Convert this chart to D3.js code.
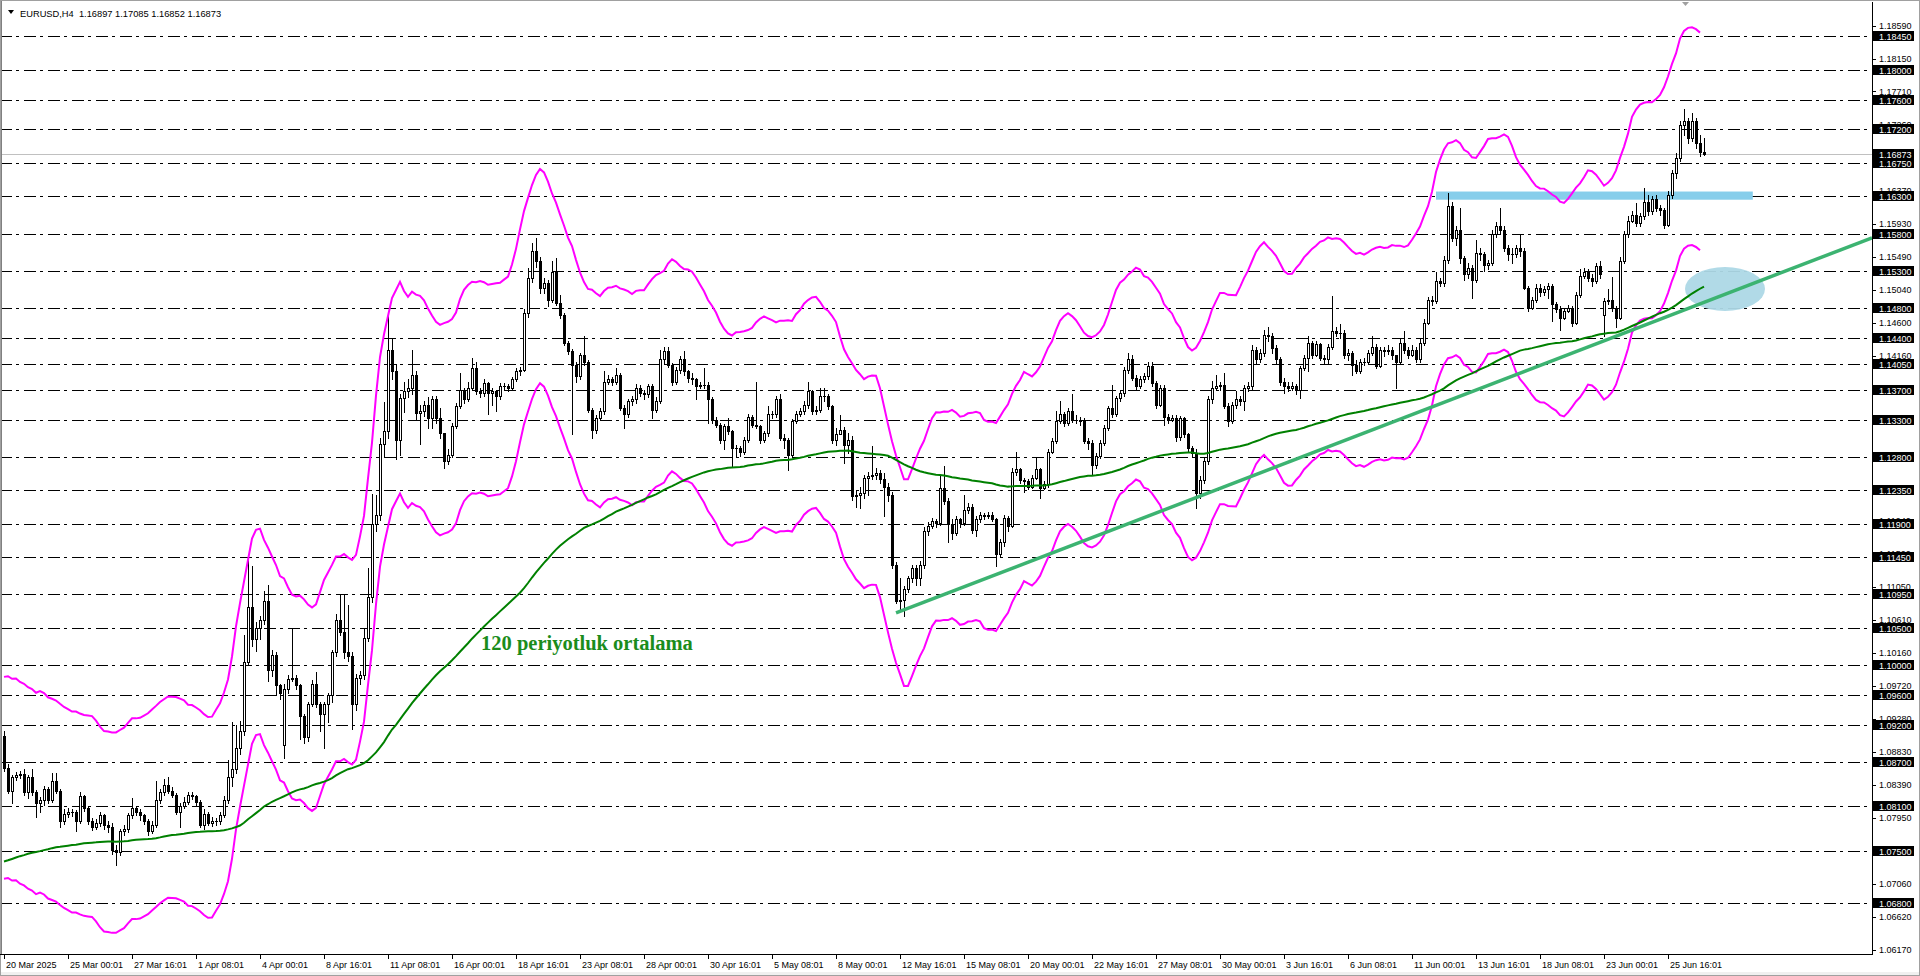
<!DOCTYPE html>
<html><head><meta charset="utf-8">
<script src="https://cdn.jsdelivr.net/npm/d3@7"></script>
<style>
html,body{margin:0;padding:0;background:#fff;overflow:hidden;}
svg{display:block;}
text{font-family:"Liberation Sans",Arial,sans-serif;}
</style></head><body>
<svg id="chart" width="1920" height="976"></svg>
<script>
// ---------------- DATA ----------------
const headerText = "EURUSD,H4  1.16897 1.17085 1.16852 1.16873";
const closes = [
1.0862,1.0831,1.0849,1.0852,1.0853,1.0829,1.0849,1.0829,1.0814,1.0818,
1.0834,1.0819,1.0844,1.0831,1.0790,1.0800,1.0802,1.0803,1.0790,1.0824,
1.0808,1.0790,1.0782,1.0788,1.0798,1.0785,1.0782,1.0752,1.0749,1.0777,
1.0780,1.0798,1.0808,1.0803,1.0798,1.0790,1.0777,1.0785,1.0819,1.0829,
1.0839,1.0831,1.0826,1.0803,1.0811,1.0816,1.0826,1.0824,1.0816,1.0785,
1.0800,1.0788,1.0790,1.0790,1.0798,1.0819,1.0849,1.0860,1.0888,1.0911,
1.1004,1.1078,1.1035,1.1050,1.1060,1.1086,1.0994,1.1014,1.0973,1.0963,
1.0968,1.0981,1.0983,1.0973,1.0932,1.0903,1.0947,1.0975,1.0947,1.0934,
1.0947,1.0960,1.1017,1.1060,1.1045,1.1017,1.1012,1.0947,1.0983,1.0986,
1.1037,1.1091,1.1189,1.1202,1.1297,1.1315,1.1423,1.1395,1.1302,1.1359,
1.1369,1.1372,1.1390,1.1339,1.1341,1.1349,1.1332,1.1357,1.1332,1.1312,
1.1274,1.1283,1.1321,1.1348,1.1370,1.1357,1.1373,1.1399,1.1368,1.1366,
1.1379,1.1366,1.1368,1.1361,1.1375,1.1375,1.1373,1.1384,1.1395,1.1397,
1.1473,1.1520,1.1556,1.1543,1.1507,1.1514,1.1491,1.1529,1.1487,1.1471,
1.1433,1.1422,1.1404,1.1388,1.1417,1.1408,1.1343,1.1316,1.1332,1.1341,
1.1381,1.1384,1.1381,1.1390,1.1346,1.1337,1.1355,1.1357,1.1373,1.1366,
1.1364,1.1375,1.1343,1.1355,1.1411,1.1422,1.1404,1.1381,1.1397,1.1411,
1.1395,1.1386,1.1384,1.1375,1.1377,1.1377,1.1357,1.1330,1.1323,1.1303,
1.1321,1.1314,1.1292,1.1292,1.1287,1.1303,1.1334,1.1323,1.1321,1.1303,
1.1312,1.1337,1.1337,1.1357,1.1305,1.1303,1.1283,1.1328,1.1337,1.1341,
1.1350,1.1368,1.1341,1.1343,1.1361,1.1361,1.1348,1.1303,1.1310,1.1316,
1.1296,1.1303,1.1227,1.1229,1.1231,1.1252,1.1254,1.1256,1.1258,1.1250,
1.1240,1.1229,1.1135,1.1086,1.1088,1.1102,1.1117,1.1131,1.1117,1.1135,
1.1180,1.1187,1.1193,1.1191,1.1238,1.1220,1.1189,1.1178,1.1196,1.1191,
1.1209,1.1213,1.1182,1.1196,1.1202,1.1200,1.1202,1.1196,1.1149,1.1166,
1.1198,1.1187,1.1260,1.1263,1.1249,1.1247,1.1240,1.1252,1.1263,1.1238,
1.1243,1.1287,1.1301,1.1328,1.1337,1.1325,1.1341,1.1330,1.1330,1.1328,
1.1301,1.1299,1.1269,1.1281,1.1299,1.1319,1.1346,1.1337,1.1359,1.1366,
1.1397,1.1411,1.1386,1.1375,1.1384,1.1388,1.1402,1.1379,1.1350,1.1373,
1.1334,1.1330,1.1332,1.1306,1.1332,1.1310,1.1292,1.1285,1.1231,1.1249,
1.1274,1.1357,1.1373,1.1375,1.1377,1.1348,1.1328,1.1350,1.1357,1.1355,
1.1373,1.1375,1.1424,1.1411,1.1420,1.1444,1.1442,1.1426,1.1411,1.1381,
1.1375,1.1373,1.1375,1.1370,1.1399,1.1413,1.1433,1.1417,1.1431,1.1413,
1.1411,1.1428,1.1449,1.1446,1.1446,1.1417,1.1419,1.1404,1.1395,1.1408,
1.1408,1.1419,1.1428,1.1402,1.1424,1.1422,1.1424,1.1417,1.1408,1.1433,
1.1424,1.1417,1.1424,1.1411,1.1433,1.1460,1.1491,1.1489,1.1516,1.1514,
1.1545,1.1617,1.1574,1.1585,1.1547,1.1525,1.1534,1.1518,1.1554,1.1552,
1.1538,1.1541,1.1579,1.1590,1.1585,1.1561,1.1552,1.1552,1.1561,1.1556,
1.1507,1.1480,1.1491,1.1507,1.1502,1.1505,1.1509,1.1485,1.1478,1.1467,
1.1476,1.1480,1.1460,1.1498,1.1523,1.1529,1.1520,1.1516,1.1536,1.1525,
1.1489,1.1491,1.1480,1.1467,1.1543,1.1579,1.1597,1.1605,1.1594,1.1603,
1.1623,1.1610,1.1626,1.1614,1.1612,1.1592,1.1632,1.1661,1.1682,1.1726,
1.1731,1.1709,1.1731,1.1702,1.16897,1.16873
];
const highs = [
1.0912,1.0867,1.0852,1.0856,1.0858,1.0860,1.0852,1.0860,1.0832,1.0822,
1.0838,1.0836,1.0855,1.0855,1.0833,1.0806,1.0808,1.0806,1.0805,1.0829,
1.0826,1.0810,1.0795,1.0793,1.0803,1.0800,1.0790,1.0788,1.0758,1.0780,
1.0785,1.0801,1.0821,1.0810,1.0806,1.0800,1.0793,1.0790,1.0844,1.0834,
1.0847,1.0849,1.0836,1.0828,1.0815,1.0822,1.0830,1.0829,1.0826,1.0818,
1.0806,1.0803,1.0796,1.0795,1.0802,1.0824,1.0873,1.0924,1.0919,1.0925,
1.1040,1.1145,1.1133,1.1058,1.1066,1.1099,1.1107,1.1020,1.1018,1.0975,
1.0975,1.0986,1.1050,1.0986,1.0975,1.0934,1.0950,1.0980,1.0991,1.0950,
1.0950,1.0963,1.1020,1.1068,1.1094,1.1094,1.1081,1.1017,1.0988,1.0992,
1.1048,1.1130,1.1230,1.1228,1.1305,1.1354,1.1472,1.1440,1.1405,1.1365,
1.1380,1.1385,1.1423,1.1395,1.1350,1.1355,1.1360,1.1362,1.1362,1.1346,
1.1312,1.1290,1.1325,1.1352,1.1393,1.1373,1.1381,1.1413,1.1408,1.1372,
1.1384,1.1381,1.1372,1.1368,1.1379,1.1379,1.1378,1.1387,1.1399,1.1400,
1.1478,1.1534,1.1567,1.1574,1.1548,1.1520,1.1518,1.1543,1.1547,1.1498,
1.1473,1.1436,1.1425,1.1408,1.1420,1.1442,1.1410,1.1345,1.1336,1.1346,
1.1395,1.1390,1.1387,1.1399,1.1392,1.1350,1.1358,1.1362,1.1378,1.1376,
1.1370,1.1378,1.1378,1.1360,1.1424,1.1428,1.1428,1.1406,1.1400,1.1415,
1.1422,1.1397,1.1392,1.1386,1.1381,1.1399,1.1380,1.1360,1.1334,1.1325,
1.1324,1.1332,1.1316,1.1296,1.1294,1.1306,1.1337,1.1336,1.1381,1.1323,
1.1315,1.1348,1.1341,1.1361,1.1364,1.1310,1.1305,1.1331,1.1342,1.1345,
1.1355,1.1381,1.1370,1.1348,1.1373,1.1372,1.1364,1.1350,1.1318,1.1336,
1.1320,1.1312,1.1308,1.1234,1.1240,1.1256,1.1260,1.1294,1.1265,1.1262,
1.1258,1.1245,1.1232,1.1138,1.1117,1.1106,1.1120,1.1135,1.1135,1.1140,
1.1185,1.1192,1.1198,1.1196,1.1254,1.1267,1.1225,1.1196,1.1200,1.1198,
1.1229,1.1218,1.1216,1.1200,1.1206,1.1205,1.1206,1.1206,1.1198,1.1170,
1.1202,1.1200,1.1265,1.1287,1.1265,1.1252,1.1250,1.1255,1.1280,1.1265,
1.1248,1.1290,1.1305,1.1341,1.1355,1.1340,1.1345,1.1364,1.1336,1.1334,
1.1332,1.1305,1.1303,1.1285,1.1303,1.1323,1.1348,1.1377,1.1362,1.1370,
1.1400,1.1420,1.1417,1.1390,1.1388,1.1392,1.1408,1.1408,1.1382,1.1377,
1.1376,1.1338,1.1336,1.1336,1.1335,1.1334,1.1312,1.1295,1.1290,1.1254,
1.1278,1.1362,1.1382,1.1390,1.1380,1.1392,1.1352,1.1353,1.1368,1.1362,
1.1377,1.1380,1.1430,1.1428,1.1425,1.1451,1.1455,1.1446,1.1430,1.1414,
1.1386,1.1380,1.1380,1.1378,1.1402,1.1417,1.1442,1.1436,1.1435,1.1433,
1.1417,1.1432,1.1496,1.1455,1.1458,1.1450,1.1425,1.1422,1.1410,1.1412,
1.1413,1.1423,1.1442,1.1431,1.1428,1.1428,1.1430,1.1428,1.1415,1.1438,
1.1449,1.1428,1.1430,1.1428,1.1438,1.1465,1.1495,1.1496,1.1529,1.1520,
1.1550,1.1635,1.1623,1.1590,1.1614,1.1550,1.1540,1.1538,1.1572,1.1560,
1.1555,1.1545,1.1585,1.1596,1.1614,1.1590,1.1565,1.1560,1.1565,1.1578,
1.1560,1.1510,1.1495,1.1512,1.1512,1.1510,1.1514,1.1512,1.1488,1.1482,
1.1480,1.1484,1.1482,1.1502,1.1532,1.1534,1.1532,1.1525,1.1540,1.1543,
1.1493,1.1505,1.1521,1.1482,1.1548,1.1583,1.1603,1.1610,1.1621,1.1607,
1.1641,1.1632,1.1630,1.1632,1.1618,1.1615,1.1637,1.1665,1.1688,1.1731,
1.1747,1.1735,1.1742,1.1735,1.1712,1.17085
];
const lows = [
1.0858,1.0828,1.0815,1.0845,1.0848,1.0826,1.0821,1.0826,1.0796,1.0803,
1.0812,1.0815,1.0816,1.0828,1.0782,1.0786,1.0796,1.0797,1.0777,1.0788,
1.0804,1.0786,1.0778,1.0780,1.0784,1.0780,1.0776,1.0746,1.0731,1.0745,
1.0772,1.0776,1.0795,1.0798,1.0792,1.0786,1.0772,1.0774,1.0783,1.0815,
1.0826,1.0828,1.0822,1.0800,1.0782,1.0808,1.0813,1.0820,1.0812,1.0782,
1.0780,1.0785,1.0784,1.0785,1.0786,1.0796,1.0815,1.0838,1.0855,1.0880,
1.0906,1.1000,1.1025,1.1019,1.1035,1.1055,1.0978,1.0985,1.0960,1.0955,
1.0875,1.0963,1.0978,1.0968,1.0901,1.0895,1.0898,1.0945,1.0944,1.0911,
1.0888,1.0924,1.0950,1.1012,1.1040,1.1010,1.1005,1.0914,1.0940,1.0975,
1.0981,1.1033,1.1085,1.1180,1.1195,1.1280,1.1305,1.1385,1.1277,1.1282,
1.1340,1.1360,1.1365,1.1330,1.1297,1.1335,1.1318,1.1319,1.1325,1.1305,
1.1265,1.1270,1.1280,1.1318,1.1345,1.1352,1.1355,1.1370,1.1365,1.1360,
1.1362,1.1337,1.1350,1.1341,1.1358,1.1370,1.1369,1.1370,1.1382,1.1390,
1.1395,1.1468,1.1515,1.1535,1.1500,1.1500,1.1482,1.1488,1.1484,1.1467,
1.1430,1.1418,1.1310,1.1380,1.1385,1.1404,1.1340,1.1305,1.1312,1.1330,
1.1338,1.1378,1.1376,1.1378,1.1343,1.1319,1.1333,1.1350,1.1352,1.1362,
1.1358,1.1360,1.1332,1.1340,1.1352,1.1405,1.1400,1.1376,1.1378,1.1393,
1.1390,1.1381,1.1378,1.1357,1.1372,1.1372,1.1325,1.1326,1.1320,1.1298,
1.1290,1.1310,1.1267,1.1280,1.1281,1.1284,1.1300,1.1320,1.1318,1.1298,
1.1300,1.1308,1.1332,1.1334,1.1302,1.1292,1.1262,1.1280,1.1325,1.1335,
1.1338,1.1346,1.1337,1.1338,1.1340,1.1355,1.1344,1.1298,1.1296,1.1310,
1.1272,1.1285,1.1222,1.1213,1.1211,1.1225,1.1228,1.1250,1.1250,1.1245,
1.1200,1.1220,1.1130,1.1084,1.1072,1.1066,1.1098,1.1112,1.1108,1.1108,
1.1130,1.1175,1.1184,1.1185,1.1188,1.1216,1.1166,1.1170,1.1175,1.1186,
1.1188,1.1205,1.1178,1.1173,1.1192,1.1196,1.1198,1.1193,1.1133,1.1145,
1.1160,1.1180,1.1185,1.1255,1.1245,1.1232,1.1236,1.1238,1.1250,1.1225,
1.1236,1.1240,1.1285,1.1298,1.1325,1.1322,1.1323,1.1327,1.1325,1.1323,
1.1298,1.1290,1.1256,1.1265,1.1278,1.1296,1.1316,1.1334,1.1335,1.1355,
1.1362,1.1393,1.1383,1.1370,1.1372,1.1380,1.1385,1.1375,1.1346,1.1348,
1.1323,1.1325,1.1328,1.1301,1.1303,1.1306,1.1288,1.1281,1.1211,1.1225,
1.1245,1.1270,1.1352,1.1370,1.1370,1.1345,1.1322,1.1325,1.1346,1.1350,
1.1343,1.1368,1.1370,1.1405,1.1408,1.1416,1.1435,1.1420,1.1405,1.1377,
1.1366,1.1368,1.1370,1.1365,1.1359,1.1396,1.1395,1.1413,1.1415,1.1410,
1.1405,1.1406,1.1425,1.1442,1.1440,1.1413,1.1410,1.1390,1.1392,1.1393,
1.1404,1.1405,1.1417,1.1399,1.1400,1.1415,1.1418,1.1411,1.1372,1.1405,
1.1420,1.1413,1.1415,1.1408,1.1408,1.1430,1.1458,1.1484,1.1486,1.1509,
1.1510,1.1540,1.1570,1.1565,1.1540,1.1518,1.1520,1.1493,1.1515,1.1545,
1.1530,1.1533,1.1538,1.1575,1.1580,1.1557,1.1545,1.1540,1.1548,1.1550,
1.1505,1.1476,1.1478,1.1488,1.1496,1.1498,1.1493,1.1462,1.1474,1.1451,
1.1465,1.1474,1.1456,1.1458,1.1495,1.1520,1.1516,1.1509,1.1514,1.1520,
1.1442,1.1485,1.1476,1.1455,1.1465,1.1540,1.1575,1.1595,1.1590,1.1590,
1.1600,1.1605,1.1606,1.1610,1.1605,1.1588,1.1590,1.1628,1.1655,1.1678,
1.1712,1.1702,1.1705,1.1695,1.1684,1.16852
];
// bars whose open differs from the previous close: [bar, open]
const openGaps = [[0, 1.0905], [70, 1.0893], [400, 1.1471]];

// horizontal dash-dot levels (black labels on the price axis)
const levelLines = [1.18450,1.18000,1.17600,1.17200,1.16750,1.16300,1.15800,1.15300,1.14800,
  1.14400,1.14050,1.13700,1.13300,1.12800,1.12350,1.11900,1.11450,1.10950,1.10500,1.10000,
  1.09600,1.09200,1.08700,1.08100,1.07500,1.06800];
const priceTicks = [1.18590,1.18150,1.17710,1.17260,1.16820,1.16370,1.15930,1.15490,1.15040,
  1.14600,1.14160,1.13720,1.13270,1.12830,1.12380,1.11940,1.11500,1.11050,1.10610,1.10160,
  1.09720,1.09280,1.08830,1.08390,1.07950,1.07500,1.07060,1.06620,1.06170];
const currentPrice = 1.16873;
const timeLabels = ["20 Mar 2025","25 Mar 00:01","27 Mar 16:01","1 Apr 08:01","4 Apr 00:01",
  "8 Apr 16:01","11 Apr 08:01","16 Apr 00:01","18 Apr 16:01","23 Apr 08:01","28 Apr 00:01",
  "30 Apr 16:01","5 May 08:01","8 May 00:01","12 May 16:01","15 May 08:01","20 May 00:01",
  "22 May 16:01","27 May 08:01","30 May 00:01","3 Jun 16:01","6 Jun 08:01","11 Jun 00:01",
  "13 Jun 16:01","18 Jun 08:01","23 Jun 00:01","25 Jun 16:01"];
const barsPerLabel = 16;

// indicators
const envelopeHalfWindow = 3;      // 7-bar SMA shifted back 3 bars
const envelopeDeviation = 0.0125;  // 1.25 %
const envelopeLastBar = 424;
const emaPeriod = 120;
const emaStart = 1.0736;           // EMA value at the first visible bar
const maLabel = "120 periyotluk ortalama";

// drawn objects
const trendAnchors = [[223, 1.1070], [298, 1.1225]];
const zoneBars = [358, 437.2];
const zonePrices = [1.16365, 1.16255];
const markBar = 430.25, markPrice = 1.15055;

// ---------------- CHART ----------------
const W = 1920, H = 976;
const plotRight = 1872, plotTop = 2, plotBottom = 954;
const svg = d3.select("#chart");
const x = d3.scaleLinear().domain([0, 1]).range([4, 8]);
const y = d3.scaleLinear().domain([1.1859, 1.0617]).range([26, 950]);
const n = closes.length;

const opens = closes.map((c, i) => i > 0 ? closes[i - 1] : c);
openGaps.forEach(([i, o]) => { opens[i] = o; });
const bars = closes.map((c, i) => ({
  i, o: opens[i], c,
  h: Math.max(highs[i], opens[i], c),
  l: Math.min(lows[i], opens[i], c)
}));

svg.append("rect").attr("width", W).attr("height", H).attr("fill", "#fff");
svg.append("defs").append("clipPath").attr("id", "plot")
  .append("rect").attr("x", 0).attr("y", plotTop).attr("width", plotRight).attr("height", plotBottom - plotTop);

const plot = svg.append("g").attr("clip-path", "url(#plot)");

// level lines
plot.append("g").selectAll("line").data(levelLines).join("line")
  .attr("x1", 0).attr("x2", plotRight)
  .attr("y1", d => Math.round(y(d)) + 0.5).attr("y2", d => Math.round(y(d)) + 0.5)
  .attr("stroke", "#000").attr("stroke-width", 1).attr("stroke-dasharray", "12,4,3,5");

// current price line
plot.append("line").attr("x1", 0).attr("x2", plotRight)
  .attr("y1", Math.round(y(currentPrice)) + 0.5).attr("y2", Math.round(y(currentPrice)) + 0.5)
  .attr("stroke", "#c0c0c0").attr("stroke-width", 1);

// zone
plot.append("rect")
  .attr("x", x(zoneBars[0])).attr("width", x(zoneBars[1]) - x(zoneBars[0]))
  .attr("y", y(zonePrices[0])).attr("height", y(zonePrices[1]) - y(zonePrices[0]))
  .attr("fill", "#87ceeb");

// highlight ellipse
plot.append("ellipse").attr("cx", x(markBar)).attr("cy", y(markPrice))
  .attr("rx", 40).attr("ry", 22).attr("fill", "#add8e6").attr("opacity", 0.95);

// candles
const cg = plot.append("g").attr("shape-rendering", "crispEdges");
bars.forEach(b => {
  const cx = Math.round(x(b.i));
  const yh = Math.round(y(b.h)), yl = Math.round(y(b.l));
  cg.append("rect").attr("x", cx).attr("y", yh).attr("width", 1).attr("height", Math.max(1, yl - yh + 1)).attr("fill", "#000");
  const top = Math.round(y(Math.max(b.o, b.c))), bot = Math.round(y(Math.min(b.o, b.c)));
  const bh = Math.max(1, bot - top + 1);
  cg.append("rect").attr("x", cx - 1).attr("y", top).attr("width", 3).attr("height", bh).attr("fill", "#000");
  if (b.c > b.o && bh > 2) {
    cg.append("rect").attr("x", cx).attr("y", top + 1).attr("width", 1).attr("height", bh - 2).attr("fill", "#fff");
  }
});

// envelopes (centered SMA)
const env = [];
for (let i = 0; i <= envelopeLastBar; i++) {
  const a = Math.max(0, i - envelopeHalfWindow), z = Math.min(n - 1, i + envelopeHalfWindow);
  env.push({ i, m: d3.mean(closes.slice(a, z + 1)) });
}
const lineGen = d3.line().x(d => x(d.i)).y(d => y(d.v));
plot.append("path").datum(env.map(d => ({ i: d.i, v: d.m * (1 + envelopeDeviation) })))
  .attr("d", lineGen).attr("fill", "none").attr("stroke", "#ff00ff").attr("stroke-width", 2);
plot.append("path").datum(env.map(d => ({ i: d.i, v: d.m * (1 - envelopeDeviation) })))
  .attr("d", lineGen).attr("fill", "none").attr("stroke", "#ff00ff").attr("stroke-width", 2);

// EMA 120
const alpha = 2 / (emaPeriod + 1);
const ema = [];
closes.forEach((c, i) => {
  const prev = i === 0 ? emaStart : ema[i - 1].v;
  ema.push({ i, v: i === 0 ? emaStart : prev + alpha * (c - prev) });
});
plot.append("path").datum(ema).attr("d", lineGen)
  .attr("fill", "none").attr("stroke", "#008000").attr("stroke-width", 2);

// trend line (ray)
const slope = (trendAnchors[1][1] - trendAnchors[0][1]) / (trendAnchors[1][0] - trendAnchors[0][0]);
const endBar = x.invert(plotRight);
plot.append("line")
  .attr("x1", x(trendAnchors[0][0])).attr("y1", y(trendAnchors[0][1]))
  .attr("x2", x(endBar)).attr("y2", y(trendAnchors[0][1] + slope * (endBar - trendAnchors[0][0])))
  .attr("stroke", "#3cb371").attr("stroke-width", 3.5);

// MA label
svg.append("text").attr("x", 481).attr("y", 650).text(maLabel)
  .attr("fill", "#1b8c1b").attr("font-size", 20.5).attr("font-weight", "bold")
  .style("font-family", "'Liberation Serif', serif");

// frame and axes
svg.append("rect").attr("x", 0.5).attr("y", 0.5).attr("width", W - 1).attr("height", H - 1)
  .attr("fill", "none").attr("stroke", "#a0a0a0");
svg.append("line").attr("x1", 1.5).attr("x2", 1.5).attr("y1", 1).attr("y2", plotBottom).attr("stroke", "#808080");
svg.append("line").attr("x1", plotRight + 0.5).attr("x2", plotRight + 0.5).attr("y1", plotTop).attr("y2", plotBottom + 1).attr("stroke", "#000");
svg.append("line").attr("x1", 0).attr("x2", plotRight + 1).attr("y1", plotBottom + 0.5).attr("y2", plotBottom + 0.5).attr("stroke", "#000");
svg.append("rect").attr("x", 1).attr("y", H - 4).attr("width", W - 2).attr("height", 3).attr("fill", "#f0f0f0");

// price axis ticks
const ax = svg.append("g").attr("font-size", 9);
ax.selectAll("line.t").data(priceTicks).join("line").attr("class", "t")
  .attr("x1", plotRight).attr("x2", plotRight + 4)
  .attr("y1", d => Math.round(y(d)) + 0.5).attr("y2", d => Math.round(y(d)) + 0.5).attr("stroke", "#000");
ax.selectAll("text.t").data(priceTicks).join("text").attr("class", "t")
  .attr("x", plotRight + 7).attr("y", d => y(d) + 3.3).text(d => d.toFixed(5)).attr("fill", "#000");

function blackLabel(v) {
  const yy = Math.round(y(v));
  ax.append("rect").attr("x", plotRight + 1).attr("y", yy - 5).attr("width", 41).attr("height", 10).attr("fill", "#000");
  ax.append("text").attr("x", plotRight + 7).attr("y", yy + 3.5).text(v.toFixed(5)).attr("fill", "#fff");
}
levelLines.forEach(blackLabel);
blackLabel(currentPrice);

// time axis
const tx = svg.append("g").attr("font-size", 9);
timeLabels.forEach((t, k) => {
  const px = Math.round(x(k * barsPerLabel));
  tx.append("line").attr("x1", px + 0.5).attr("x2", px + 0.5).attr("y1", plotBottom).attr("y2", plotBottom + 5).attr("stroke", "#000");
  tx.append("text").attr("x", px + 2).attr("y", 968).text(t).attr("fill", "#000");
});

// header
svg.append("path").attr("d", "M8,10 L14,10 L11,14 Z").attr("fill", "#000");
svg.append("text").attr("x", 20).attr("y", 17).attr("font-size", 9.3).attr("fill", "#000")
  .attr("xml:space", "preserve").style("white-space", "pre").text(headerText);
// chart-shift marker
svg.append("path").attr("d", "M1682,2 L1689,2 L1685.5,6 Z").attr("fill", "#a0a0a0");
</script>
</body></html>
